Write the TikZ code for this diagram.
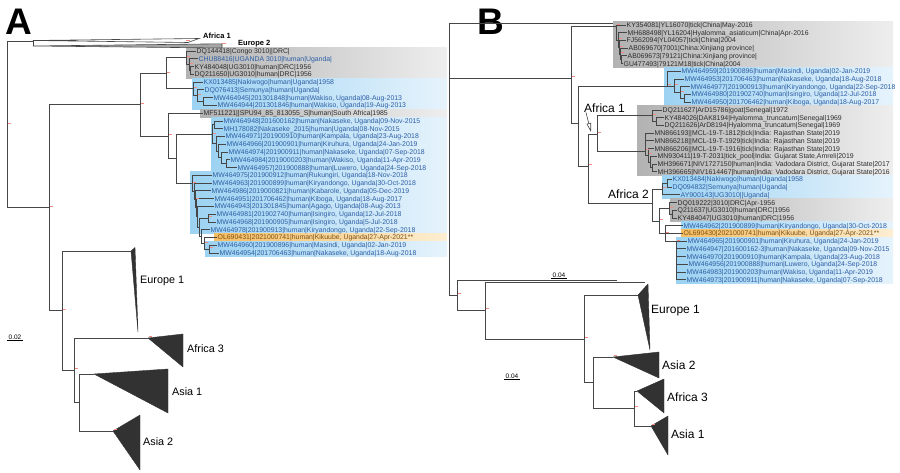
\documentclass[tikz,border=0pt]{standalone}
\usepackage{fontspec}
\setmainfont{Liberation Sans}
\usetikzlibrary{arrows.meta}
\definecolor{treeGray}{RGB}{70,70,70}
\definecolor{cladeDark}{RGB}{50,50,50}
\definecolor{hlGray}{RGB}{178,178,178}
\definecolor{hlGrayLt}{RGB}{238,238,238}
\definecolor{hlBlue}{RGB}{156,210,242}
\definecolor{hlBlueLt}{RGB}{230,243,252}
\definecolor{hlOrange}{RGB}{246,190,98}
\definecolor{hlOrangeLt}{RGB}{252,238,210}
\definecolor{ugBlue}{RGB}{45,95,165}
\definecolor{refGray}{RGB}{45,45,45}
\definecolor{newBrown}{RGB}{125,80,20}
\definecolor{bsRed}{RGB}{244,140,130}

\tikzset{
  branch/.style={treeGray, line width=0.8pt},
  clade/.style={fill=cladeDark, draw=cladeDark, line width=0.4pt, line join=round},
  cladename/.style={font=\fontsize{10.8}{12}\selectfont, anchor=west,
                    inner sep=0pt, text height=7.8pt, text depth=0pt},
  cladenameB/.style={font=\fontsize{12}{13}\selectfont, anchor=west,
                     inner sep=0pt, text height=8.6pt, text depth=0pt},
  smallclade/.style={font=\fontsize{7.5}{8}\selectfont\bfseries, anchor=west,
                     inner sep=0pt, text height=5.4pt, text depth=0pt},
  lbl/.style={font=\fontsize{6.9}{7}\selectfont, anchor=west, inner sep=0.5pt,
              text height=5pt, text depth=0pt},
  ugtxt/.style={text=ugBlue},
  reftxt/.style={text=refGray},
  newtxt/.style={text=newBrown},
  grayhl/.style={left color=hlGray, right color=hlGrayLt},
  bluehl/.style={left color=hlBlue, right color=hlBlueLt},
  orangehl/.style={left color=hlOrange, right color=hlOrangeLt},
  bsmark/.style={bsRed, line width=0.9pt},
  scalelbl/.style={font=\fontsize{6.5}{7}\selectfont, inner sep=1pt},
  panelletter/.style={font=\fontsize{37}{40}\selectfont\bfseries,
                      anchor=base west, inner sep=0pt},
}
% bootstrap mark next to a node
\newcommand{\bsm}[1]{\draw[bsmark] ([shift={(1,-1.2)}]#1) -- ++(3,0);}

\begin{document}
\begin{tikzpicture}[x=1pt,y=-1pt]
\useasboundingbox (0,0) rectangle (900,473);

% Panel letters
\node[panelletter] (letA) at (5,35) {A};
\node[panelletter] (letB) at (477,35) {B};

% ---------------- Panel A ----------------
% highlight boxes
\shade[grayhl] (186,47.1) rectangle (447,78.2);
\shade[bluehl] (192,78.2) rectangle (447,109.3);
\shade[grayhl] (200,109.3) rectangle (447,117.1);
\shade[bluehl] (211,117.1) rectangle (447,171.4);
\shade[bluehl] (190,171.4) rectangle (447,233.6);
\shade[orangehl] (214,233.6) rectangle (447,241.4);
\shade[bluehl] (205,241.4) rectangle (447,257);

% tip labels
\foreach [count=\i from 0] \xx/\st/\tx in {
  196/reftxt/{DQ144418|Congo 3010||DRC|},
  198/ugtxt/{CHU88416|UGANDA 3010|human|Uganda|},
  194/reftxt/{KY484048|UG3010|human|DRC|1956},
  194/reftxt/{DQ211650|UG3010|human|DRC|1956},
  203/ugtxt/{KX013485|Nakiwogo|human|Uganda|1958},
  204/ugtxt/{DQ076413|Semunya|human|Uganda|},
  213/ugtxt/{MW464945|201301848|human|Wakiso, Uganda|08-Aug-2013},
  217/ugtxt/{MW464944|201301846|human|Wakiso, Uganda|19-Aug-2013},
  203/reftxt/{MF511221||SPU94\_85\_813055\_S|human|South Africa|1985},
  223/ugtxt/{MW464948|201600162|human|Nakaseke, Uganda|09-Nov-2015},
  223/ugtxt/{MH178082|Nakaseke\_2015|human|Uganda|08-Nov-2015},
  225/ugtxt/{MW464971|201900910|human|Kampala, Uganda|23-Aug-2018},
  226/ugtxt/{MW464966|201900901|human|Kiruhura, Uganda|24-Jan-2019},
  228/ugtxt/{MW464974|201900911|human|Nakaseke, Uganda|07-Sep-2018},
  230/ugtxt/{MW464984|2019000203|human|Wakiso, Uganda|11-Apr-2019},
  237/ugtxt/{MW464957|201900888|human|Luwero, Uganda|24-Sep-2018},
  212/ugtxt/{MW464975|201900912|human|Rukungiri, Uganda|18-Nov-2018},
  212/ugtxt/{MW464963|201900899|human|Kiryandongo, Uganda|30-Oct-2018},
  211/ugtxt/{MW464986|2019000821|human|Kabarole, Uganda|05-Dec-2019},
  214/ugtxt/{MW464951|201706462|human|Kiboga, Uganda|18-Aug-2017},
  214/ugtxt/{MW464943|201301845|human|Agago, Uganda|08-Aug-2013},
  216/ugtxt/{MW464981|201902740|human|Isingiro, Uganda|12-Jul-2018},
  216/ugtxt/{MW464968|201900905|human|Isingiro, Uganda|5-Jul-2018},
  210/ugtxt/{MW464978|201900913|human|Kiryandongo, Uganda|22-Sep-2018},
  217/newtxt/{OL690431|2021000741|human|Kikuube, Uganda|27-Apr-2021**},
  217/ugtxt/{MW464960|201900896|human|Masindi, Uganda|02-Jan-2019},
  219/ugtxt/{MW464954|201706463|human|Nakaseke, Uganda|18-Aug-2018}}{
  \pgfmathsetmacro{\yy}{51+7.77*\i}
  \node[lbl,\st] (a\i) at (\xx,\yy) {\tx};
}

% internal nodes
\coordinate (rA) at (7,124.3);
\coordinate (afeu) at (33,41);
\coordinate (af1A) at (33,40.5);
\coordinate (eu2A) at (33,46);
\coordinate (n1) at (49,207.6);
\coordinate (n2) at (140,104.7);
\coordinate (n3) at (166,73.4);
\coordinate (cC) at (186,57.8);
\coordinate (cC1) at (189,64.6);
\coordinate (cC2) at (190,70.4);
\coordinate (cK) at (193,88.9);
\coordinate (cK1) at (197,95.7);
\coordinate (cK2) at (203,101.5);
\coordinate (n4) at (168,136);
\coordinate (n5) at (176,158.8);
\coordinate (u1) at (212,134.3);
\coordinate (u1a) at (214,124.8);
\coordinate (u1b) at (216,143.75);
\coordinate (u1c) at (218,151);
\coordinate (u1d) at (221,157.85);
\coordinate (u1e) at (226,163.7);
\coordinate (u2) at (192,183.25);
\coordinate (u2a) at (194,191.2);
\coordinate (u2b) at (195,199.3);
\coordinate (u2c) at (196,207.7);
\coordinate (u2d) at (197,216.85);
\coordinate (u2e) at (199,227.3);
\coordinate (u2f) at (208,218.05);
\coordinate (u2g) at (201,236.5);
\coordinate (u2h) at (204,243.3);
\coordinate (u2i) at (209,249.15);
\coordinate (n6) at (62,310.5);
\coordinate (n7) at (74,370);
\coordinate (n8) at (79,402.5);
% apexes of collapsed clades
\coordinate (eu1A) at (131,251);
\coordinate (af3A) at (148,338);
\coordinate (as1A) at (94,374);
\coordinate (as2A) at (113,431);

% collapsed clades
\filldraw[draw=treeGray, fill=white, line width=0.6pt]
  (af1A) -- (199,38.5) -- (188,42.5) -- cycle;
\filldraw[draw=treeGray, fill=gray!70, line width=0.6pt]
  (eu2A) -- (222,43.8) -- (222,48) -- cycle;
\filldraw[clade] (eu1A) -- (135,247.5) -- (138,332) -- cycle;
\filldraw[clade] (af3A) -- (183,334) -- (183,367) -- cycle;
\filldraw[clade] (as1A) -- (168,369) -- (168,413) -- cycle;
\filldraw[clade] (as2A) -- (140,415) -- (140,470) -- cycle;

\node[smallclade] (lAf1A) at (203,36) {Africa 1};
\node[smallclade] (lEu2A) at (238,43) {Europe 2};
\node[cladename] (lEu1A) at (140,280) {Europe 1};
\node[cladename] (lAf3A) at (187,349) {Africa 3};
\node[cladename] (lAs1A) at (172,392) {Asia 1};
\node[cladename] (lAs2A) at (143,442) {Asia 2};

% branches
\foreach \p/\c in {rA/afeu, afeu/af1A, afeu/eu2A, rA/n1, n1/n2, n1/n6,
    n2/n3, n2/n4, n3/cC, n3/cK, cC/a0.west, cC/cC1, cC1/a1.west, cC1/cC2,
    cC2/a2.west, cC2/a3.west, cK/a4.west, cK/cK1, cK1/a5.west, cK1/cK2,
    cK2/a6.west, cK2/a7.west, n4/a8.west, n4/n5, n5/u1, n5/u2,
    u1/u1a, u1/u1b, u1a/a9.west, u1a/a10.west, u1b/a11.west, u1b/u1c,
    u1c/a12.west, u1c/u1d, u1d/a13.west, u1d/u1e, u1e/a14.west, u1e/a15.west,
    u2/a16.west, u2/u2a, u2a/a17.west, u2a/u2b, u2b/a18.west, u2b/u2c,
    u2c/a19.west, u2c/u2d, u2d/a20.west, u2d/u2e, u2e/u2f, u2e/u2g,
    u2f/a21.west, u2f/a22.west, u2g/a23.west, u2g/u2h, u2h/a24.west,
    u2h/u2i, u2i/a25.west, u2i/a26.west,
    n6/eu1A, n6/n7, n7/af3A, n7/n8, n8/as1A, n8/as2A}
  \draw[branch] (\p) |- (\c);

% bootstrap marks
\foreach \m in {rA, n1, n2, n3, cC, cC1, cK, cK1, n4, u1, u2, u2b, u2f,
                u2h, u2i, n6, n7, af3A, as2A}
  {\bsm{\m}}
\draw[bsmark] (186,40) -- ++(3.5,0);
\draw[bsmark] (222,43.5) -- ++(3.5,0);

% scale bar
\node[scalelbl] (scA) at (15,337) {0.02};
\draw[black, line width=0.5pt] (scA.south west) -- (scA.south east);

% ---------------- Panel B ----------------
% highlight boxes
\shade[grayhl] (613,21.1) rectangle (893,67.4);
\shade[bluehl] (664,67.4) rectangle (893,106.0);
\shade[grayhl] (637,106.0) rectangle (893,175.5);
\shade[bluehl] (662,175.5) rectangle (893,198.7);
\shade[grayhl] (670,198.7) rectangle (893,221.8);
\shade[bluehl] (681,221.8) rectangle (893,229.6);
\shade[orangehl] (681,229.6) rectangle (893,237.3);
\shade[bluehl] (676,237.3) rectangle (893,283.6);

% tip labels
\foreach [count=\i from 0] \xx/\st/\tx in {
  626/reftxt/{KY354081|YL16070|tick|China|May-2016},
  627/reftxt/{MH688498|YL16204|Hyalomma\_asiaticum|China|Apr-2016},
  626/reftxt/{FJ562094|YL04057|tick|China|2004},
  628/reftxt/{AB069670|7001|China:Xinjiang province|},
  627/reftxt/{AB069673|79121|China:Xinjiang province|},
  623/reftxt/{GU477493|79121M18|tick|China|2004},
  681/ugtxt/{MW464959|201900896|human|Masindi, Uganda|02-Jan-2019},
  684/ugtxt/{MW464953|201706463|human|Nakaseke, Uganda|18-Aug-2018},
  690/ugtxt/{MW464977|201900913|human|Kiryandongo, Uganda|22-Sep-2018},
  691/ugtxt/{MW464980|201902740|human|Isingiro, Uganda|12-Jul-2018},
  691/ugtxt/{MW464950|201706462|human|Kiboga, Uganda|18-Aug-2017},
  662/reftxt/{DQ211627|ArD15786|goat|Senegal|1972},
  664/reftxt/{KY484026|DAK8194|Hyalomma\_truncatum|Senegal|1969},
  664/reftxt/{DQ211626|ArD8194|Hyalomma\_truncatum|Senegal|1969},
  654/reftxt/{MN866193||MCL-19-T-1812|tick|India: Rajasthan State|2019},
  654/reftxt/{MN866218||MCL-19-T-1929|tick|India: Rajasthan State|2019},
  654/reftxt/{MN866206||MCL-19-T-1916|tick|India: Rajasthan State|2019},
  657/reftxt/{MN930411|19-T-2031|tick\_pool|India: Gujarat State,Amreli|2019},
  657/reftxt/{MH396671|NIV1727150|human|India: Vadodara District, Gujarat State|2017},
  657/reftxt/{MH396665|NIV1614467|human|India: Vadodara District, Gujarat State|2016},
  672/ugtxt/{KX013484|Nakiwogo|human|Uganda|1958},
  672/ugtxt/{DQ094832|Semunya|human|Uganda|},
  680/ugtxt/{AY900143|UG3010||Uganda|},
  677/reftxt/{DQ019222|3010|DRC|Apr-1956},
  677/reftxt/{Q211637|UG3010|human|DRC|1956},
  677/reftxt/{KY484047|UG3010|human|DRC|1956},
  683/ugtxt/{MW464962|201900899|human|Kiryandongo, Uganda|30-Oct-2018},
  683/newtxt/{OL690430|2021000741|human|Kikuube, Uganda|27-Apr-2021**},
  687/ugtxt/{MW464965|201900901|human|Kiruhura, Uganda|24-Jan-2019},
  686/ugtxt/{MW464947|201600162-3|human|Nakaseke, Uganda|09-Nov-2015},
  686/ugtxt/{MW464970|201900910|human|Kampala, Uganda|23-Aug-2018},
  688/ugtxt/{MW464956|201900888|human|Luwero, Uganda|24-Sep-2018},
  686/ugtxt/{MW464983|201900203|human|Wakiso, Uganda|11-Apr-2019},
  686/ugtxt/{MW464973|201900911|human|Nakaseke, Uganda|07-Sep-2018}}{
  \pgfmathsetmacro{\yy}{25+7.72*\i}
  \node[lbl,\st] (b\i) at (\xx,\yy) {\tx};
}

% internal nodes
\coordinate (rootB) at (449,159);
\coordinate (topB) at (613,23);
\coordinate (nB1) at (571,78);
\coordinate (chn) at (616,26);
\coordinate (chn1) at (618,40);
\coordinate (chn2) at (619,47.2);
\coordinate (chn3) at (620,54);
\coordinate (chn4) at (621.5,59.7);
\coordinate (nB2) at (578,123);
\coordinate (ugn) at (667,86);
\coordinate (ugn2) at (674,86);
\coordinate (ugn3) at (680,92.5);
\coordinate (ugn4) at (684,98.3);
\coordinate (nB3) at (588,166);
\coordinate (af1n) at (597,134);
\coordinate (sen) at (652,115.7);
\coordinate (sen1) at (656,121.5);
\coordinate (ind) at (645,151);
\coordinate (indA) at (648,155);
\coordinate (indB) at (650,162);
\coordinate (indC) at (652,167.9);
\coordinate (af2n) at (652,203);
\coordinate (akn) at (662,189);
\coordinate (akp) at (667,183.3);
\coordinate (dnB) at (659,221);
\coordinate (drn) at (669,208.4);
\coordinate (drp) at (672,214.2);
\coordinate (u5n) at (665,233.4);
\coordinate (u6n) at (676,241.2);
\coordinate (lo) at (457,295);
\coordinate (loT1) at (617,280);
\coordinate (lo2) at (485,310);
\coordinate (loT2) at (645,282);
\coordinate (lo3) at (584,339);
\coordinate (lo4) at (593,382);
\coordinate (lo5) at (634,408);
% apexes of collapsed clades
\coordinate (eu1B) at (638,295);
\coordinate (as2B) at (613,357);
\coordinate (af3B) at (637,391);
\coordinate (as1B) at (651,426);

% collapsed clades
\filldraw[clade] (eu1B) -- (648,284) -- (650,350) -- cycle;
\filldraw[clade] (as2B) -- (659,352) -- (659,378) -- cycle;
\filldraw[clade] (af3B) -- (664,379) -- (664,413) -- cycle;
\filldraw[clade] (as1B) -- (668,416) -- (668,455) -- cycle;

\node[cladenameB] (lAf1B) at (584,108) {Africa 1};
\node[cladenameB] (lAf2B) at (608,194) {Africa 2};
\node[cladenameB] (lEu1B) at (651,309) {Europe 1};
\node[cladenameB] (lAs2B) at (662,365) {Asia 2};
\node[cladenameB] (lAf3B) at (667,397) {Africa 3};
\node[cladenameB] (lAs1B) at (671,434) {Asia 1};

% pointer to the Africa 1 node
\coordinate (af1tip) at (591,132);
\draw[treeGray, line width=0.6pt, -{Triangle[open, length=9pt, width=4.5pt]}]
  ([xshift=2pt]lAf1B.south west) -- (af1tip);

% branches
\foreach \p/\c in {rootB/topB, rootB/nB1, rootB/lo, nB1/chn, nB1/nB2,
    chn/b0.west, chn/chn1, chn1/b1.west, chn1/chn2, chn2/b2.west, chn2/chn3,
    chn3/b3.west, chn3/chn4, chn4/b4.west, chn4/b5.west,
    nB2/ugn, nB2/nB3, ugn/b6.west, ugn/ugn2, ugn2/b7.west, ugn2/ugn3,
    ugn3/b8.west, ugn3/ugn4, ugn4/b9.west, ugn4/b10.west,
    nB3/af1n, nB3/af2n, af1n/sen, af1n/ind, sen/b11.west, sen/sen1,
    sen1/b12.west, sen1/b13.west, ind/b14.west, ind/b15.west, ind/indA,
    indA/b16.west, indA/indB, indB/b17.west, indB/indC, indC/b18.west,
    indC/b19.west, af2n/akn, af2n/dnB, akn/akp, akn/b22.west,
    akp/b20.west, akp/b21.west, dnB/drn, dnB/u5n, drn/b23.west, drn/drp,
    drp/b24.west, drp/b25.west, u5n/b26.west, u5n/b27.west, u5n/u6n,
    u6n/b28.west, u6n/b29.west, u6n/b30.west, u6n/b31.west, u6n/b32.west,
    u6n/b33.west,
    lo/loT1, lo/lo2, lo2/loT2, lo2/lo3, lo3/eu1B, lo3/lo4, lo4/as2B,
    lo4/lo5, lo5/af3B, lo5/as1B}
  \draw[branch] (\p) |- (\c);

% bootstrap marks
\foreach \m in {nB1, chn, chn1, chn2, chn3, ugn, ugn2, ugn3, nB3, af1n,
                sen, ind, indA, akn, drn, dnB, u5n, u6n, lo, lo2, lo3,
                lo5, as2B, as1B}
  {\bsm{\m}}

% scale bars
\node[scalelbl] (scB1) at (559,275) {0.04};
\draw[black, line width=0.5pt] (scB1.south west) -- (scB1.south east);
\node[scalelbl] (scB2) at (512,376) {0.04};
\draw[black, line width=0.5pt] (scB2.south west) -- (scB2.south east);

\end{tikzpicture}
\end{document}
